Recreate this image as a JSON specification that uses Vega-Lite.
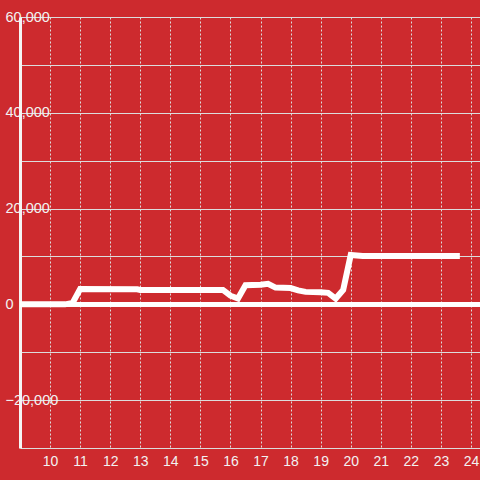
{
  "$schema": "https://vega.github.io/schema/vega-lite/v6.json",
  "width": 460,
  "height": 431,
  "autosize": {"type": "none"},
  "padding": {"left": 20, "top": 17, "right": 0, "bottom": 32},
  "background": "#cd2a2e",
  "config": {
    "view": {"stroke": null},
    "font": "Liberation Sans"
  },
  "data": {
    "values": [
      {"hour": 9.0, "value": 0},
      {"hour": 10.5, "value": 0},
      {"hour": 10.75, "value": 300},
      {"hour": 11.0, "value": 3200},
      {"hour": 12.9, "value": 3150},
      {"hour": 13.0, "value": 3000},
      {"hour": 15.75, "value": 3000},
      {"hour": 16.0, "value": 1800},
      {"hour": 16.25, "value": 1200},
      {"hour": 16.5, "value": 4000},
      {"hour": 17.0, "value": 4100},
      {"hour": 17.25, "value": 4300},
      {"hour": 17.5, "value": 3500},
      {"hour": 18.0, "value": 3400},
      {"hour": 18.25, "value": 2900},
      {"hour": 18.5, "value": 2600},
      {"hour": 19.0, "value": 2500},
      {"hour": 19.25, "value": 2400},
      {"hour": 19.5, "value": 1200},
      {"hour": 19.75, "value": 3000},
      {"hour": 20.0, "value": 10300},
      {"hour": 20.4, "value": 10100},
      {"hour": 23.63, "value": 10100}
    ]
  },
  "layer": [
    {
      "mark": {"type": "rule", "color": "#ffffff", "strokeWidth": 4},
      "encoding": {
        "y": {"datum": 0, "type": "quantitative"}
      }
    },
    {
      "mark": {"type": "line", "color": "#ffffff", "strokeWidth": 6, "strokeCap": "butt", "strokeJoin": "miter", "clip": true},
      "encoding": {
        "x": {
          "field": "hour",
          "type": "quantitative",
          "scale": {"domain": [9, 24.3], "nice": false, "zero": false},
          "axis": {
            "title": null,
            "values": [10, 11, 12, 13, 14, 15, 16, 17, 18, 19, 20, 21, 22, 23, 24],
            "format": "d",
            "domain": false,
            "ticks": false,
            "grid": true,
            "gridColor": "#dcdcdc",
            "gridDash": [2, 2],
            "gridWidth": 1,
            "labelColor": "#f2f2f2",
            "labelFontSize": 14,
            "labelPadding": 6,
            "labelFlush": false,
            "labelOverlap": false
          }
        },
        "y": {
          "field": "value",
          "type": "quantitative",
          "scale": {"domain": [-30000, 60000], "nice": false, "zero": false},
          "axis": {
            "title": null,
            "values": [-30000, -20000, -10000, 0, 10000, 20000, 30000, 40000, 50000, 60000],
            "labelExpr": "datum.value % 20000 == 0 ? format(datum.value, ',d') : ''",
            "domain": true,
            "domainColor": "#f5f5f5",
            "domainWidth": 3,
            "ticks": false,
            "grid": true,
            "gridColor": "#dcdcdc",
            "gridWidth": 1,
            "labelAlign": "left",
            "labelBaseline": "middle",
            "labelPadding": 15,
            "labelColor": "#f2f2f2",
            "labelFontSize": 14.5,
            "labelFlush": false,
            "labelOverlap": false
          }
        }
      }
    }
  ]
}
